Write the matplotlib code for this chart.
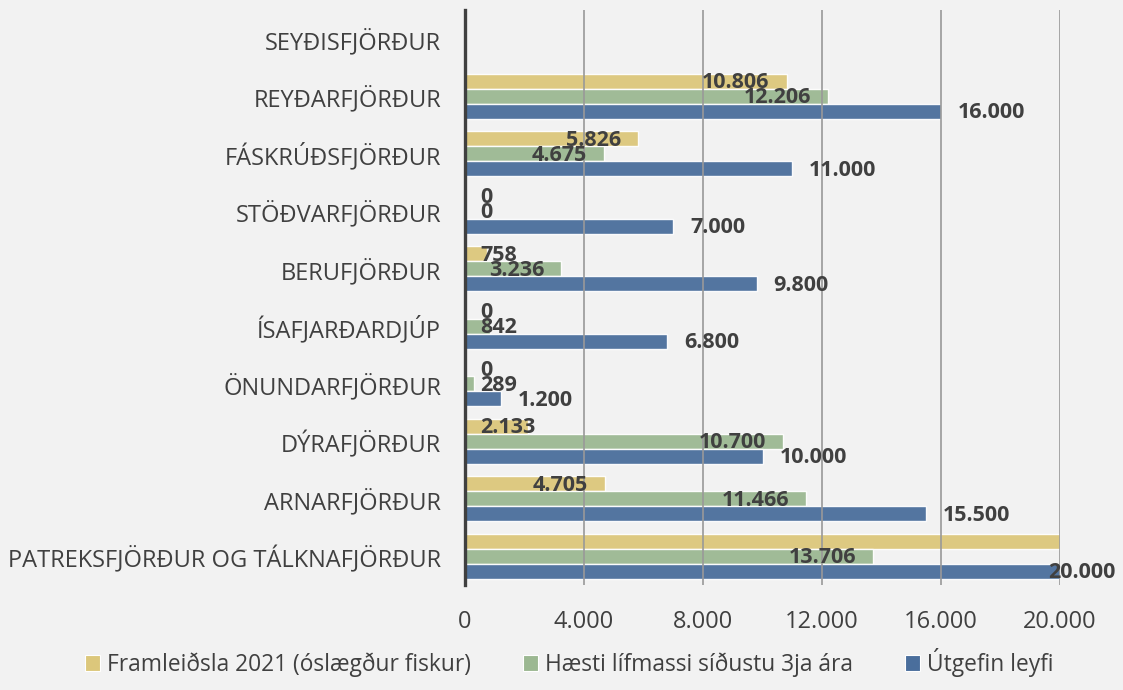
import numpy as np
import matplotlib
matplotlib.use('Agg')
import matplotlib.pyplot as plt
from matplotlib.patches import Patch

plt.rcParams['font.family'] = ['Open Sans', 'DejaVu Sans']

# data (bottom to top)
categories = ['PATREKSFJÖRÐUR OG TÁLKNAFJÖRÐUR', 'ARNARFJÖRÐUR', 'DÝRAFJÖRÐUR',
              'ÖNUNDARFJÖRÐUR', 'ÍSAFJARÐARDJÚP', 'BERUFJÖRÐUR', 'STÖÐVARFJÖRÐUR',
              'FÁSKRÚÐSFJÖRÐUR', 'REYÐARFJÖRÐUR', 'SEYÐISFJÖRÐUR']
framleidsla = [20000, 4705, 2133, 0, 0, 758, 0, 5826, 10806, None]
lifmassi = [13706, 11466, 10700, 289, 842, 3236, 0, 4675, 12206, None]
leyfi = [20000, 15500, 10000, 1200, 6800, 9800, 7000, 11000, 16000, None]
series_names = ['Framleiðsla 2021 (óslægður fiskur)', 'Hæsti lífmassi síðustu 3ja ára', 'Útgefin leyfi']
colors = ['#dcc77b', '#9cb892', '#4a6e9c']
xticks = [0, 4000, 8000, 12000, 16000, 20000]
xmax = 20000

bg = '#f2f2f2'
txt = '#404040'

def fmt(v):
    return f'{v:,.0f}'.replace(',', '.')

fig = plt.figure(figsize=(11.23, 6.9), dpi=100, facecolor=bg)
ax = fig.add_axes([0.414, 0.152, 0.53, 0.8335])
ax.set_facecolor(bg)

y = np.arange(len(categories))
h = 0.26
offsets = [h, 0, -h]
px = 0.72  # points per pixel
lbl = dict(va='center', fontsize=15.5, fontweight='bold', color=txt,
           textcoords='offset points', annotation_clip=False, zorder=4)

for vals, off, col, name in zip([framleidsla, lifmassi, leyfi], offsets, colors, series_names):
    for yi, v in zip(y, vals):
        if v is None:
            continue
        ax.barh(yi + off, min(v, xmax), height=h, color=col, alpha=0.95,
                edgecolor='#ffffff', linewidth=1.0, zorder=2)
        if name == series_names[2]:
            if v >= xmax:
                ax.annotate(fmt(v), (xmax, yi + off), xytext=(55 * px, -1), ha='right', **lbl)
            else:
                ax.annotate(fmt(v), (v, yi + off), xytext=(17 * px, -1), ha='left', **lbl)
        else:
            if v >= xmax:
                continue  # label hidden past axis max
            if v < 2500:
                ax.annotate(fmt(v), (0, yi + off), xytext=(15 * px, -1), ha='left', **lbl)
            else:
                ax.annotate(fmt(v), (v, yi + off), xytext=(-17 * px, -1), ha='right', **lbl)

ax.set_xlim(0, xmax)
ax.set_ylim(-0.5, len(categories) - 0.5)
ax.set_yticks(y)
ax.set_yticklabels(categories, fontsize=17, color=txt)
ax.set_xticks(xticks)
ax.set_xticklabels([fmt(t) for t in xticks], fontsize=17, color=txt)
ax.tick_params(axis='y', length=0, pad=17)
ax.tick_params(axis='x', length=0, pad=18)
ax.grid(axis='x', color='#999999', linewidth=1.2, zorder=3)
ax.set_axisbelow(False)
for s in ['top', 'right', 'bottom']:
    ax.spines[s].set_visible(False)
ax.spines['left'].set_color('#404040')
ax.spines['left'].set_linewidth(2.4)
ax.spines['left'].set_zorder(5)

handles = [Patch(facecolor=c, edgecolor='#ffffff', linewidth=0.8) for c in colors]
fig.legend(handles, series_names, loc='center', bbox_to_anchor=(0.507, 0.04), ncol=3,
           frameon=False, fontsize=16.4, labelcolor=txt, handlelength=0.65, handleheight=0.65,
           handletextpad=0.3, columnspacing=2.3)

fig.savefig('out.png', dpi=100, facecolor=bg)
